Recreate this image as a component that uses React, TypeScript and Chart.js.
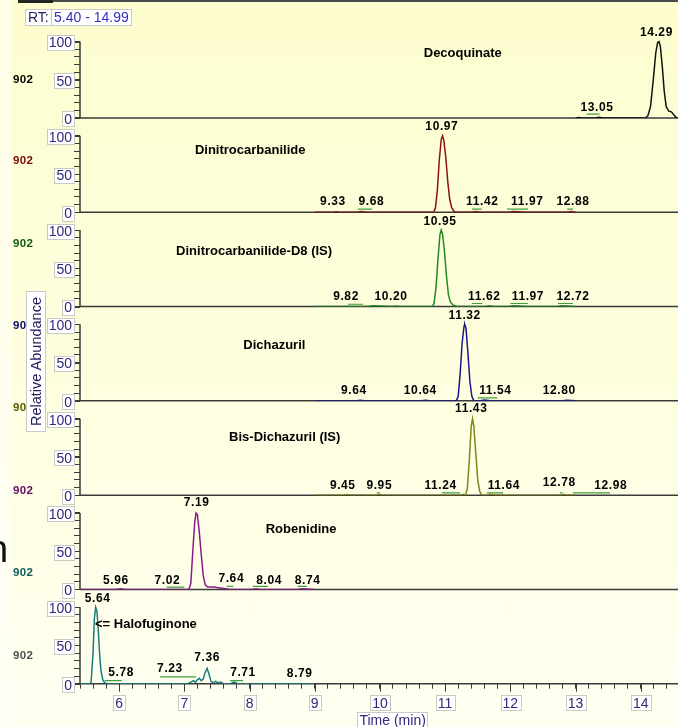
import React, { useEffect, useRef } from 'react';
import { Chart, registerables } from 'chart.js';

Chart.register(...registerables);

const FONT = '"Liberation Sans", Arial, Helvetica, sans-serif';
const AXIS_COLOR = '#3a3a3a';
const LABEL_COLOR = '#33287a';
const MARK_COLOR = '#3f9f3f';

// ---- axes ----
const timeMin = 5.4;
const timeMax = 14.99;
const abundanceMax = 123.3; // headroom above 100 where the peak labels sit
const xTickLabels = [6, 7, 8, 9, 10, 11, 12, 13, 14];
const yTickLabels = [0, 50, 100];
const yMinorTicks = [0, 10, 20, 30, 40, 50, 60, 70, 80, 90, 100];
const xAxisTitle = 'Time (min)';
const yAxisTitle = 'Relative Abundance';
const rtPrefix = 'RT:';
const rtRangeLabel = '5.40 - 14.99';
const ionLabel = '902';
const ionLabelColors = ['#000000', '#7a0a0a', '#0d5e0d', '#0a0a6e', '#5c5c00', '#5e0a5e', '#0a5e5e', '#505050'];

// ---- panels (top to bottom) ----
const compoundNames = [
  'Decoquinate',
  'Dinitrocarbanilide',
  'Dinitrocarbanilide-D8 (IS)',
  'Dichazuril',
  'Bis-Dichazuril (IS)',
  'Robenidine',
  '<= Halofuginone',
];
const compoundNameAtTime = [11.27, 8.01, 8.07, 8.38, 8.54, 8.79, 5.63];
const compoundNameAtAbund = [85, 81, 72, 73, 76, 79, 78];
const traceColors = ['#111111', '#8b1212', '#218a21', '#18188a', '#84841a', '#8a1a8a', '#1b7d7d'];

// Decoquinate
const decoquinateTime = [13.0, 13.05, 13.1, 13.3, 13.36, 13.42, 14.07, 14.11, 14.15, 14.19, 14.23, 14.26, 14.28, 14.3, 14.33, 14.36, 14.39, 14.43, 14.47, 14.51, 14.55, 14.99];
const decoquinateAbund = [0, 0.5, 0, 0, 1, 0, 0, 3, 15, 48, 85, 99, 100, 94, 68, 35, 15, 9, 8, 4, 0, 0];
const decoquinateLabels: [string, number, number][] = [['13.05', 13.33, 13], ['14.29', 14.24, 111]];
const decoquinateMarks: [number, number, number][] = [[13.0, 13.16, 0.6], [13.17, 13.37, 5]];

// Dinitrocarbanilide
const dncTime = [9.0, 9.28, 9.33, 9.38, 9.66, 9.72, 9.8, 10.82, 10.85, 10.88, 10.91, 10.94, 10.96, 10.98, 11.01, 11.04, 11.07, 11.1, 11.13, 11.16, 11.42, 11.47, 11.55, 11.97, 12.05, 12.25, 12.88, 12.93, 13.0];
const dncAbund = [0, 0, 0.8, 0, 0, 1, 0, 0, 5, 28, 68, 95, 100, 94, 72, 40, 17, 6, 2, 0, 0, 1, 0, 0, 1, 0, 0, 1, 0];
const dncLabels: [string, number, number][] = [['9.33', 9.28, 14], ['9.68', 9.87, 14], ['10.97', 10.95, 111.5], ['11.42', 11.57, 14], ['11.97', 12.26, 14], ['12.88', 12.96, 14]];
const dncMarks: [number, number, number][] = [[9.66, 9.88, 4], [11.41, 11.56, 4], [11.95, 12.27, 4], [12.87, 12.96, 4]];

// Dinitrocarbanilide-D8 (IS)
const dncD8Time = [9.0, 9.5, 9.82, 9.88, 10.2, 10.26, 10.3, 10.8, 10.83, 10.86, 10.89, 10.92, 10.94, 10.96, 10.99, 11.02, 11.05, 11.08, 11.12, 11.18, 11.62, 11.67, 11.75, 11.97, 12.05, 12.25, 12.72, 12.78, 13.0];
const dncD8Abund = [0, 0, 0, 1, 0, 0.8, 0, 0, 4, 25, 62, 94, 100, 95, 72, 40, 16, 6, 2, 0, 0, 1, 0, 0, 1, 0, 0, 1, 0];
const dncD8Labels: [string, number, number][] = [['9.82', 9.48, 13], ['10.20', 10.17, 13], ['10.95', 10.92, 111], ['11.62', 11.6, 13], ['11.97', 12.27, 13], ['12.72', 12.96, 13]];
const dncD8Marks: [number, number, number][] = [[9.51, 9.74, 3], [11.41, 11.57, 4], [12.0, 12.27, 4], [12.73, 12.96, 4]];

// Dichazuril
const dichazurilTime = [9.0, 9.64, 9.7, 9.76, 10.64, 10.7, 10.76, 11.17, 11.2, 11.23, 11.26, 11.29, 11.3, 11.32, 11.35, 11.38, 11.41, 11.44, 11.54, 11.6, 11.7, 12.8, 12.86, 13.0];
const dichazurilAbund = [0, 0, 0.8, 0, 0, 0.8, 0, 0, 6, 35, 75, 98, 100, 95, 62, 25, 6, 0, 0, 1, 0, 0, 0.8, 0];
const dichazurilLabels: [string, number, number][] = [['9.64', 9.6, 13], ['10.64', 10.62, 13], ['11.32', 11.3, 112], ['11.54', 11.77, 13], ['12.80', 12.75, 13]];
const dichazurilMarks: [number, number, number][] = [[11.5, 11.8, 4]];

// Bis-Dichazuril (IS)
const bisTime = [9.0, 9.45, 9.5, 9.55, 9.95, 10.0, 10.05, 11.24, 11.28, 11.31, 11.34, 11.37, 11.4, 11.42, 11.44, 11.47, 11.5, 11.53, 11.56, 11.64, 11.7, 11.78, 12.78, 12.82, 12.86, 13.0];
const bisAbund = [0, 0, 0.8, 0, 0, 0.8, 0, 0, 1, 0, 8, 45, 90, 100, 90, 55, 20, 5, 0, 0, 1, 0, 0, 1, 0, 0];
const bisLabels: [string, number, number][] = [['9.45', 9.43, 12.5], ['9.95', 9.99, 12.5], ['11.24', 10.93, 12.5], ['11.43', 11.4, 112.5], ['11.64', 11.9, 12.5], ['12.78', 12.75, 16], ['12.98', 13.54, 12]];
const bisMarks: [number, number, number][] = [[9.95, 10.0, 3], [10.95, 11.23, 3], [11.64, 11.89, 3], [12.76, 12.8, 3], [12.96, 13.53, 3]];

// Robenidine
const robenidineTime = [5.4, 5.96, 6.02, 6.08, 7.02, 7.07, 7.1, 7.13, 7.16, 7.18, 7.2, 7.23, 7.26, 7.29, 7.32, 7.36, 7.45, 7.55, 7.64, 7.7, 8.04, 8.1, 8.16, 8.74, 8.8, 9.0];
const robenidineAbund = [0, 0, 0.8, 0, 0, 0, 8, 50, 88, 100, 98, 75, 45, 18, 6, 3, 3, 2, 1, 0, 0, 1, 0, 0, 1, 0];
const robenidineLabels: [string, number, number][] = [['5.96', 5.95, 11], ['7.02', 6.74, 11], ['7.19', 7.19, 113], ['7.64', 7.72, 13.5], ['8.04', 8.3, 11], ['8.74', 8.89, 11]];
const robenidineMarks: [number, number, number][] = [[6.73, 7.0, 3], [7.65, 7.75, 4], [8.05, 8.28, 4], [8.74, 8.88, 4]];

// Halofuginone
const halofuginoneTime = [5.4, 5.55, 5.57, 5.6, 5.62, 5.64, 5.66, 5.68, 5.7, 5.72, 5.75, 5.78, 5.82, 7.05, 7.1, 7.14, 7.17, 7.2, 7.23, 7.26, 7.29, 7.32, 7.35, 7.38, 7.41, 7.44, 7.48, 7.52, 7.56, 7.6, 7.71, 7.76, 7.82, 9.0];
const halofuginoneAbund = [0, 0, 2, 40, 85, 100, 95, 70, 40, 18, 5, 1, 0, 0, 2, 4, 2, 5, 7, 4, 6, 15, 20, 12, 3, 1, 3, 1, 2, 0, 0, 2, 0, 0];
const halofuginoneLabels: [string, number, number][] = [['5.64', 5.67, 111], ['5.78', 6.03, 15], ['7.23', 6.78, 19], ['7.36', 7.35, 34], ['7.71', 7.9, 15], ['8.79', 8.77, 13]];
const halofuginoneMarks: [number, number, number][] = [[5.78, 6.04, 4], [6.63, 7.18, 9], [7.7, 7.9, 4]];

const panelTimes = [decoquinateTime, dncTime, dncD8Time, dichazurilTime, bisTime, robenidineTime, halofuginoneTime];
const panelAbunds = [decoquinateAbund, dncAbund, dncD8Abund, dichazurilAbund, bisAbund, robenidineAbund, halofuginoneAbund];
const panelLabels = [decoquinateLabels, dncLabels, dncD8Labels, dichazurilLabels, bisLabels, robenidineLabels, halofuginoneLabels];
const panelMarks = [decoquinateMarks, dncMarks, dncD8Marks, dichazurilMarks, bisMarks, robenidineMarks, halofuginoneMarks];
const panelIds = panelTimes.map((_, i) => 'p' + i);

function boxedText(ctx: CanvasRenderingContext2D, text: string, x: number, y: number, align: 'right' | 'center') {
  ctx.font = `14px ${FONT}`;
  const w = ctx.measureText(text).width;
  const padX = 2;
  const h = 15;
  const left = align === 'right' ? x - w - padX : x - w / 2 - padX;
  const bx = Math.round(left) + 0.5;
  const by = Math.round(y - h / 2) + 0.5;
  ctx.fillStyle = '#ffffff';
  ctx.fillRect(bx, by, Math.round(w + 2 * padX), h);
  ctx.strokeStyle = '#c9c9c9';
  ctx.lineWidth = 1;
  ctx.strokeRect(bx, by, Math.round(w + 2 * padX), h);
  ctx.fillStyle = LABEL_COLOR;
  ctx.textAlign = 'left';
  ctx.textBaseline = 'middle';
  ctx.fillText(text, left + padX, y + 1);
}

const chromPlugin = {
  id: 'chromatogram',
  beforeDatasetsDraw(chart: any) {
    const { ctx, chartArea } = chart;
    const left = chartArea.left;
    ctx.save();
    ctx.strokeStyle = AXIS_COLOR;
    panelIds.forEach((id) => {
      const s = chart.scales[id];
      const y0 = s.getPixelForValue(0);
      const y100 = s.getPixelForValue(100);
      ctx.lineWidth = 1.5;
      ctx.beginPath();
      ctx.moveTo(left, y0);
      ctx.lineTo(chart.width, y0);
      ctx.moveTo(left, y0);
      ctx.lineTo(left, y100);
      ctx.stroke();
      ctx.lineWidth = 1;
      ctx.beginPath();
      yTickLabels.forEach((v) => {
        const y = Math.round(s.getPixelForValue(v)) + 0.5;
        ctx.moveTo(left - 8, y);
        ctx.lineTo(left, y);
      });
      ctx.stroke();
    });
    const xs = chart.scales.x;
    ctx.beginPath();
    xTickLabels.forEach((v) => {
      const x = Math.round(xs.getPixelForValue(v)) + 0.5;
      ctx.moveTo(x, chartArea.bottom);
      ctx.lineTo(x, chartArea.bottom + 8);
    });
    ctx.stroke();
    ctx.restore();
  },
  afterDatasetsDraw(chart: any) {
    const { ctx, chartArea } = chart;
    const xs = chart.scales.x;
    ctx.save();
    // y tick labels
    panelIds.forEach((id) => {
      const s = chart.scales[id];
      yTickLabels.forEach((v) => {
        boxedText(ctx, String(v), chartArea.left - 8, s.getPixelForValue(v) + 1, 'right');
      });
    });
    // x tick labels
    xTickLabels.forEach((v) => {
      boxedText(ctx, String(v), xs.getPixelForValue(v), chartArea.bottom + 19, 'center');
    });
    boxedText(ctx, xAxisTitle, (chartArea.left + chartArea.right) / 2, chartArea.bottom + 36, 'center');

    // compound names and peak labels
    ctx.fillStyle = '#000000';
    ctx.textBaseline = 'middle';
    panelIds.forEach((id, i) => {
      const s = chart.scales[id];
      ctx.font = `bold 13px ${FONT}`;
      (ctx as any).letterSpacing = '0px';
      const last = i === panelIds.length - 1;
      ctx.textAlign = last ? 'left' : 'center';
      ctx.fillText(compoundNames[i], xs.getPixelForValue(compoundNameAtTime[i]), s.getPixelForValue(compoundNameAtAbund[i]));
      ctx.font = `bold 12px ${FONT}`;
      (ctx as any).letterSpacing = '0.6px';
      ctx.textAlign = 'center';
      panelLabels[i].forEach(([text, t, a]) => {
        ctx.fillText(text, xs.getPixelForValue(t), s.getPixelForValue(a));
      });
    });
    ctx.restore();
  },
};

export default function App() {
  const canvasRef = useRef<HTMLCanvasElement | null>(null);

  useEffect(() => {
    if (!canvasRef.current) return;
    const traceSets = panelIds.map((id, i) => ({
      data: panelTimes[i].map((t, j) => ({ x: t, y: panelAbunds[i][j] })),
      yAxisID: id,
      borderColor: traceColors[i],
      borderWidth: 1.5,
      pointRadius: 0,
      tension: 0,
      fill: false,
    }));
    const markSets = panelIds.map((id, i) => {
      const pts: { x: number; y: number | null }[] = [];
      panelMarks[i].forEach(([a, b, l]) => {
        pts.push({ x: a, y: l }, { x: b, y: l }, { x: b, y: null });
      });
      return {
        data: pts,
        yAxisID: id,
        borderColor: MARK_COLOR,
        borderWidth: 1.2,
        pointRadius: 0,
        tension: 0,
        fill: false,
        spanGaps: false,
      };
    });

    const scales: any = {
      x: {
        type: 'linear',
        position: 'bottom',
        min: timeMin,
        max: timeMax,
        border: { display: false },
        grid: { drawOnChartArea: false, drawTicks: true, tickLength: 5, color: AXIS_COLOR, lineWidth: 1 },
        ticks: { display: false, stepSize: 0.2 },
        afterFit: (s: any) => {
          s.height = 43.3;
        },
      },
    };
    for (let i = panelIds.length - 1; i >= 0; i--) {
      scales[panelIds[i]] = {
        type: 'linear',
        position: 'left',
        stack: 'panels',
        stackWeight: 1,
        min: 0,
        max: abundanceMax,
        border: { display: false },
        grid: { drawOnChartArea: false, drawTicks: true, tickLength: 6, color: AXIS_COLOR, lineWidth: 1 },
        ticks: { display: false },
        afterBuildTicks: (s: any) => {
          s.ticks = yMinorTicks.map((v) => ({ value: v }));
        },
        afterFit: (s: any) => {
          s.width = 6;
        },
      };
    }

    const chart = new Chart(canvasRef.current, {
      type: 'line',
      data: { datasets: [...traceSets, ...markSets] as any },
      options: {
        animation: false,
        responsive: false,
        maintainAspectRatio: false,
        devicePixelRatio: 1,
        layout: { padding: { left: 74, top: 23.7, right: 14.7, bottom: 0 } },
        plugins: { legend: { display: false }, tooltip: { enabled: false } },
        scales,
      },
      plugins: [chromPlugin],
    });
    return () => chart.destroy();
  }, []);

  const boxStyle: React.CSSProperties = {
    position: 'absolute',
    background: '#ffffff',
    border: '1px solid #c9c9c9',
    fontFamily: FONT,
    fontSize: 14,
    lineHeight: '15px',
    padding: '0 2px',
    boxSizing: 'border-box',
  };

  return (
    <div
      style={{
        position: 'absolute',
        left: 0,
        top: 0,
        width: 678,
        height: 727,
        overflow: 'hidden',
        background: 'linear-gradient(180deg, #fdfdcf 0%, #fefee0 55%, #fffff1 100%)',
      }}
    >
      <div
        style={{
          position: 'absolute',
          left: 0,
          top: 0,
          width: 12,
          height: 727,
          background: 'linear-gradient(180deg, #fefee6 0%, #fffff6 100%)',
        }}
      />
      <canvas ref={canvasRef} width={720} height={727} style={{ position: 'absolute', left: 0, top: 0 }} />
      <div style={{ position: 'absolute', left: 18, top: 0, width: 660, height: 2, background: '#4a4a4a' }} />
      <div style={{ position: 'absolute', left: 18, top: 0, width: 35, height: 3, background: '#222' }} />
      <div style={{ ...boxStyle, left: 25, top: 9, height: 17, color: '#1f1f5f' }}>{rtPrefix}</div>
      <div style={{ ...boxStyle, left: 51, top: 9, height: 17, color: '#3030c0' }}>{rtRangeLabel}</div>
      {ionLabelColors.map((c, i) => (
        <div
          key={i}
          style={{
            position: 'absolute',
            left: 13,
            top: [79, 160, 243, 325, 407, 490, 572, 655][i] - 7,
            fontFamily: FONT,
            fontWeight: 'bold',
            fontSize: 11.5,
            lineHeight: '14px',
            letterSpacing: '0.3px',
            color: c,
          }}
        >
          {ionLabel}
        </div>
      ))}
      <div
        style={{
          ...boxStyle,
          left: 26,
          top: 291,
          width: 20,
          height: 141,
          padding: 0,
          display: 'flex',
          alignItems: 'center',
          justifyContent: 'center',
          color: '#1c1c5c',
        }}
      >
        <span
          style={{
            writingMode: 'vertical-rl',
            transform: 'rotate(180deg)',
            fontSize: 14.5,
            whiteSpace: 'nowrap',
            lineHeight: '18px',
          }}
        >
          {yAxisTitle}
        </span>
      </div>
      <div
        style={{
          position: 'absolute',
          left: -13,
          top: 530,
          fontFamily: FONT,
          fontSize: 38,
          lineHeight: '38px',
          color: '#111',
        }}
      >
        n
      </div>
    </div>
  );
}
